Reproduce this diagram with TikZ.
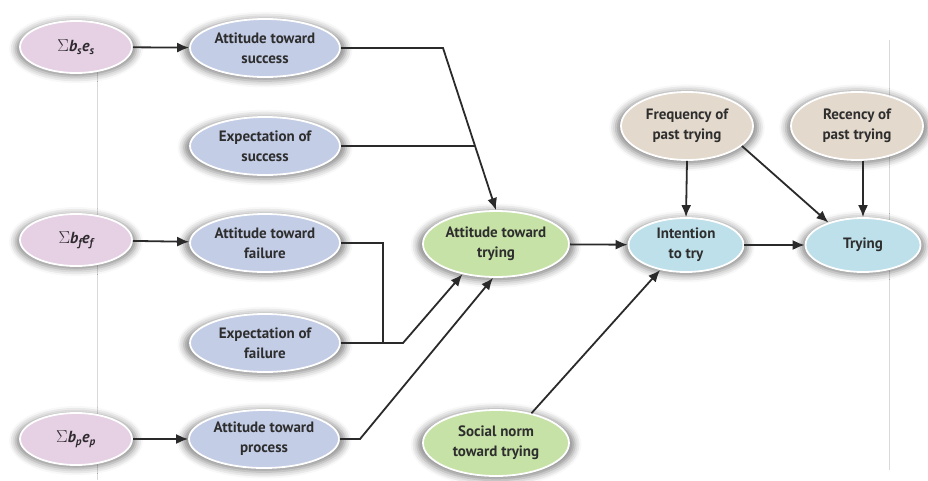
\documentclass[tikz,border=0pt]{standalone}
\usepackage{fontspec}
\setmainfont{PT Sans}
\usetikzlibrary{arrows.meta,shapes.geometric,shadows.blur}

\definecolor{pinkfill}{HTML}{E5D0E4}
\definecolor{bluefill}{HTML}{C3CDE6}
\definecolor{greenfill}{HTML}{C6E2A6}
\definecolor{tanfill}{HTML}{E4D9CD}
\definecolor{cyanfill}{HTML}{BEE0EB}
\definecolor{linkcol}{HTML}{2A2A2A}
\definecolor{txtcol}{HTML}{2E2E2E}
\definecolor{guide}{HTML}{D9D9D9}

\begin{document}
\begin{tikzpicture}[x=1pt,y=-1pt,
  bubble/.style={ellipse, draw=white, line width=1.8pt, inner sep=0pt,
    align=center, text=txtcol,
    font=\bfseries\fontsize{15}{20}\selectfont,
    blur shadow={shadow xshift=0pt, shadow yshift=-1.5pt, shadow scale=1.08,
      shadow blur radius=6pt, shadow opacity=45}},
  sumnode/.style={bubble, fill=pinkfill, minimum width=112pt, minimum height=52pt,
    font=\bfseries\itshape\fontsize{16}{20}\selectfont, text=black!80!pinkfill},
  evalnode/.style={bubble, fill=bluefill, minimum width=150pt, minimum height=58pt},
  trynode/.style={bubble, fill=greenfill, minimum width=146pt, minimum height=66pt},
  pastnode/.style={bubble, fill=tanfill, minimum width=132pt, minimum height=68pt},
  outnode/.style={bubble, fill=cyanfill, minimum width=115pt, minimum height=54pt},
  link/.style={draw=linkcol, line width=1.8pt},
  arr/.style={link, -{Latex[length=12pt,width=10pt]}}
]
\useasboundingbox (0,0) rectangle (928,480);

% faint page guides
\draw[guide, line width=0.6pt] (97,38) -- (97,480);
\draw[guide, line width=0.6pt] (889,40) -- (889,470);

% belief-evaluation sums
\node[sumnode] (sse) at (76,47)  {{\upshape$\Sigma$}b\textsubscript{s}e\textsubscript{s}};
\node[sumnode] (sfe) at (76,240) {{\upshape$\Sigma$}b\textsubscript{f}e\textsubscript{f}};
\node[sumnode] (spe) at (76,439) {{\upshape$\Sigma$}b\textsubscript{p}e\textsubscript{p}};

% attitudes and expectations
\node[evalnode] (asu) at (265,48)  {Attitude toward\\success};
\node[evalnode] (esu) at (265,146) {Expectation of\\success};
\node[evalnode] (afa) at (265,243) {Attitude toward\\failure};
\node[evalnode] (efa) at (265,343) {Expectation of\\failure};
\node[evalnode] (apr) at (264,439) {Attitude toward\\process};

% trying constructs
\node[trynode] (att) at (496,244) {Attitude toward\\trying};
\node[trynode] (sn)  at (496,443) {Social norm\\toward trying};
\node[outnode] (int) at (686,245) {Intention\\to try};
\node[outnode] (try) at (863,245) {Trying};
\node[pastnode] (freq) at (687,126) {Frequency of\\past trying};
\node[pastnode] (rec)  at (857,126) {Recency of\\past trying};

% sums to attitudes
\draw[arr] (sse) -- (asu);
\draw[arr] (sfe) -- (afa);
\draw[arr] (spe) -- (apr);

% success branch
\coordinate (k1) at (443,48);
\draw[arr] (asu.east) -- (k1) -- (att.north);
\path (k1) -- (att.north) coordinate[pos=0.605] (k2);
\draw[link] (esu.east) -- (esu.east -| k2);

% failure branch
\coordinate (k3) at (383,243);
\coordinate (k4) at (403,343);
\draw[link] (afa.east) -- (afa.east -| k3) -- (efa.east -| k3);
\draw[arr] (efa.east) -- (efa.east -| k4) -- (att.222);

% process branch
\coordinate (k5) at (360,439);
\draw[arr] (apr.east) -- (apr.east -| k5) -- (att.265);

% towards trying
\draw[arr] (att) -- (int);
\draw[arr] (sn.40) -- (int.224);
\draw[arr] (freq.south) -- (int.north);
\draw[arr] (freq.340) -- (try.147);
\draw[arr] (try.north |- rec.south) -- (try.north);
\draw[arr] (int) -- (try);
\end{tikzpicture}
\end{document}
